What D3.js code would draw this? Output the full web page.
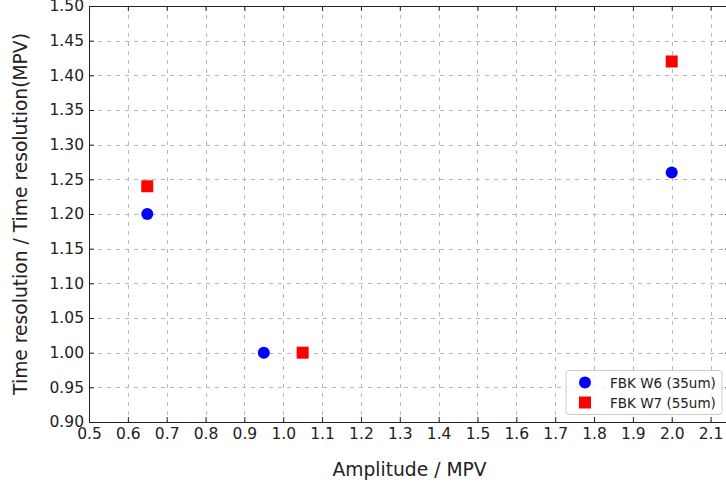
<!DOCTYPE html>
<html><head><meta charset="utf-8">
<script src="https://cdn.jsdelivr.net/npm/d3@7"></script>
<style>body{margin:0;background:#fff}svg{display:block}text{font-family:"DejaVu Sans",sans-serif}</style>
</head><body><svg id="c" width="726" height="484"></svg>
<script>
const seriesNames = ["FBK W6 (35um)", "FBK W7 (55um)"];
const w6X = [0.65, 0.95, 2.0];
const w6Y = [1.20, 1.00, 1.26];
const w7X = [0.65, 1.05, 2.0];
const w7Y = [1.24, 1.00, 1.42];
const xTicks = [0.5,0.6,0.7,0.8,0.9,1.0,1.1,1.2,1.3,1.4,1.5,1.6,1.7,1.8,1.9,2.0,2.1];
const yTicks = [0.90,0.95,1.00,1.05,1.10,1.15,1.20,1.25,1.30,1.35,1.40,1.45,1.50];

const svg = d3.select("#c");
const L = 89, R = 730, T = 6, B = 422;
const x = d3.scaleLinear().domain([0.5, 2.15]).range([L, R]);
const y = d3.scaleLinear().domain([0.90, 1.50]).range([B, T]);

// grid
const grid = svg.append("g").attr("stroke","#b8b8b8").attr("stroke-width",1).attr("stroke-dasharray","4,5");
grid.selectAll(".gx").data(xTicks.slice(1)).join("line")
  .attr("x1",d=>Math.round(x(d))+0.5).attr("x2",d=>Math.round(x(d))+0.5).attr("y1",T).attr("y2",B);
grid.selectAll(".gy").data(yTicks.slice(1,-1)).join("line")
  .attr("y1",d=>Math.round(y(d))+0.5).attr("y2",d=>Math.round(y(d))+0.5).attr("x1",L).attr("x2",R);

// axes
const fmtX = d3.format(".1f"), fmtY = d3.format(".2f");
const ax = svg.append("g").attr("transform",`translate(0,${B})`)
  .call(d3.axisBottom(x).tickValues(xTicks).tickFormat(fmtX).tickSizeInner(-5).tickSizeOuter(0).tickPadding(6));
const ay = svg.append("g").attr("transform",`translate(${L},0)`)
  .call(d3.axisLeft(y).tickValues(yTicks).tickFormat(fmtY).tickSizeInner(-5).tickSizeOuter(0).tickPadding(5));
const at = svg.append("g").attr("transform",`translate(0,${T})`)
  .call(d3.axisTop(x).tickValues(xTicks).tickFormat("").tickSizeInner(-5).tickSizeOuter(0));
const ar = svg.append("g").attr("transform",`translate(${R},0)`)
  .call(d3.axisRight(y).tickValues(yTicks).tickFormat("").tickSizeInner(-5).tickSizeOuter(0));
[ax,ay,at,ar].forEach(g=>{
  g.selectAll("text").attr("font-size",15.5).attr("fill","#222").attr("font-family","DejaVu Sans");
  g.selectAll("line").attr("stroke","#222");
  g.select(".domain").attr("stroke","#222");
});

// axis labels
svg.append("text").attr("x",(L+R)/2).attr("y",476).attr("text-anchor","middle")
  .attr("font-size",18.7).attr("fill","#222").text("Amplitude / MPV");
svg.append("text").attr("transform",`translate(27,${(T+B)/2}) rotate(-90)`).attr("text-anchor","middle")
  .attr("font-size",18.7).attr("fill","#222").text("Time resolution / Time resolution(MPV)");

// markers
const plot = svg.append("g");
plot.selectAll(".c").data(w6X.map((v,i)=>[v,w6Y[i]])).join("circle")
  .attr("cx",d=>x(d[0])).attr("cy",d=>y(d[1])).attr("r",6).attr("fill","#0000ff");
plot.selectAll(".s").data(w7X.map((v,i)=>[v,w7Y[i]])).join("rect")
  .attr("x",d=>x(d[0])-6).attr("y",d=>y(d[1])-6).attr("width",12).attr("height",12).attr("fill","#ff0000");

// legend
const lg = svg.append("g");
lg.append("rect").attr("x",566).attr("y",370.5).attr("width",156).attr("height",44).attr("rx",3)
  .attr("fill","#fff").attr("fill-opacity",0.8).attr("stroke","#cccccc");
lg.append("circle").attr("cx",585).attr("cy",382.5).attr("r",6).attr("fill","#0000ff");
lg.append("rect").attr("x",579).attr("y",396.5).attr("width",12).attr("height",12).attr("fill","#ff0000");
lg.selectAll(".lt").data(seriesNames).join("text").attr("x",610).attr("y",(d,i)=>387.5+i*20)
  .attr("font-size",13.5).attr("fill","#222").text(d=>d);
</script></body></html>
